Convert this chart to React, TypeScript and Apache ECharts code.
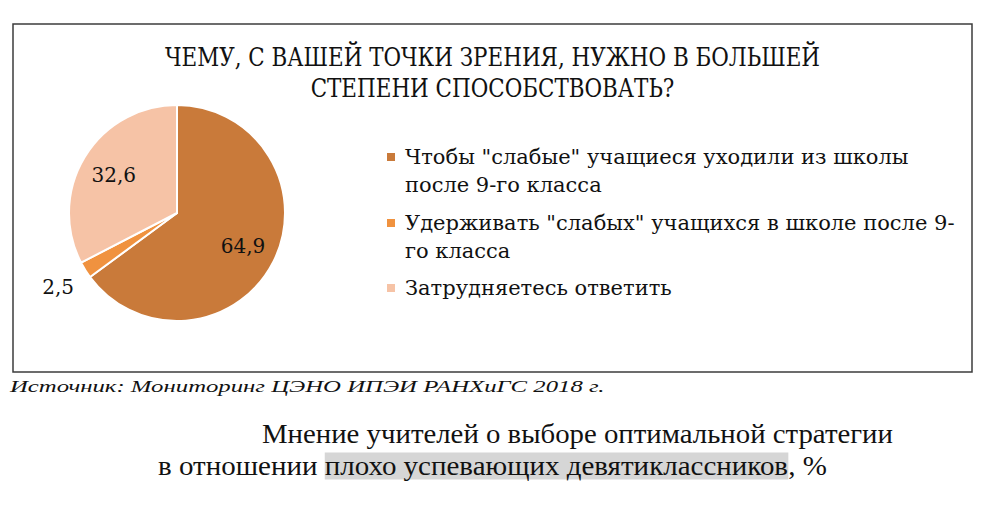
import React, { useEffect, useRef } from 'react';
import * as echarts from 'echarts';

// ---- data ----
const titleLines = ['ЧЕМУ, С ВАШЕЙ ТОЧКИ ЗРЕНИЯ, НУЖНО В БОЛЬШЕЙ', 'СТЕПЕНИ СПОСОБСТВОВАТЬ?'];
const answers = [
  'Чтобы "слабые" учащиеся уходили из школы после 9-го класса',
  'Удерживать "слабых" учащихся в школе после 9-го класса',
  'Затрудняетесь ответить'
];
// how the legend wraps each answer
const legendLabels = [
  'Чтобы "слабые" учащиеся уходили из школы\nпосле 9-го класса',
  'Удерживать "слабых" учащихся в школе после 9-\nго класса',
  'Затрудняетесь ответить'
];
const shares = [64.9, 2.5, 32.6];
const sourceNote = 'Источник: Мониторинг ЦЭНО ИПЭИ РАНХиГС 2018 г.';
const captionLine1 = 'Мнение учителей о выборе оптимальной стратегии';
const captionLine2 = ['в отношении ', 'плохо успевающих девятиклассников', ', %'];

// ---- look ----
const colors = ['#C97A3A', '#F0923F', '#F6C3A6'];
const SERIF = 'DejaVu Serif';
const timesCandidates = ['Liberation Serif', 'Times New Roman', 'Tinos', 'DejaVu Serif'];
const INK = '#111';
const PIE_X = 177;
const PIE_Y = 213;
const PIE_R = 108;
const labelRadius = [74, 140, 74];
const LEGEND_LINE = 28;
const legendLineCenters = [157, 223, 288];

function measure(text: string, font: string) {
  const ctx = document.createElement('canvas').getContext('2d')!;
  ctx.font = font;
  return ctx.measureText(text).width;
}

// first family that really draws Cyrillic
function pickFont(names: string[]) {
  const probe = 'Мнение учителей ЦЭНО';
  for (const n of names) {
    const ok = ['monospace', 'sans-serif'].every(
      base => Math.abs(measure(probe, `30px "${n}", ${base}`) - measure(probe, `30px ${base}`)) > 0.5
    );
    if (ok) return n;
  }
  return 'serif';
}

export default function App() {
  const chartRef = useRef<HTMLDivElement>(null);

  useEffect(() => {
    if (!chartRef.current) return;
    const chart = echarts.init(chartRef.current, undefined, { renderer: 'svg' });
    const TIMES = pickFont(timesCandidates);

    const total = shares.reduce((a, b) => a + b, 0);
    let acc = 0;
    const midAngles = shares.map(v => {
      const a = ((acc + v / 2) / total) * Math.PI * 2;
      acc += v;
      return a;
    });

    // squeeze / stretch texts to the widths seen on the page
    const titleScale = 655 / measure(titleLines[0], `26px "${SERIF}"`);
    const sourceScale = 595 / measure(sourceNote, `italic 17px "${TIMES}"`);
    const cap1Scale = 631 / measure(captionLine1, `27px "${TIMES}"`);
    const cap2Scale = 669 / measure(captionLine2.join(''), `27px "${TIMES}"`);

    const option: any = {
      animation: false,
      backgroundColor: '#fff',
      graphic: [
        {
          type: 'rect',
          shape: { x: 13, y: 24, width: 959, height: 348 },
          style: { fill: 'none', stroke: '#3c3c3c', lineWidth: 1.5 },
          silent: true
        },
        {
          type: 'text',
          x: 492.5,
          y: 41.5,
          scaleX: titleScale,
          style: {
            text: titleLines.join('\n'),
            fontFamily: SERIF,
            fontSize: 26,
            lineHeight: 31.5,
            fill: INK,
            align: 'center',
            verticalAlign: 'top'
          }
        },
        {
          type: 'text',
          x: 10,
          y: 386,
          scaleX: sourceScale,
          style: {
            text: sourceNote,
            fontFamily: TIMES,
            fontStyle: 'italic',
            fontSize: 17,
            fill: INK,
            align: 'left',
            verticalAlign: 'middle'
          }
        },
        {
          type: 'text',
          x: 262,
          y: 434,
          scaleX: cap1Scale,
          style: {
            text: captionLine1,
            fontFamily: TIMES,
            fontSize: 27,
            fill: INK,
            align: 'left',
            verticalAlign: 'middle'
          }
        },
        {
          type: 'text',
          x: 158,
          y: 466,
          scaleX: cap2Scale,
          style: {
            text: `{a|${captionLine2[0]}}{h|${captionLine2[1]}}{a|${captionLine2[2]}}`,
            fontFamily: TIMES,
            fontSize: 27,
            fill: INK,
            align: 'left',
            verticalAlign: 'middle',
            rich: {
              a: { fontFamily: TIMES, fontSize: 27, fill: INK, lineHeight: 32 },
              h: { fontFamily: TIMES, fontSize: 27, fill: INK, lineHeight: 32, backgroundColor: '#D6D6D6' }
            }
          }
        }
      ],
      legend: answers.map((name, i) => {
        const twoLines = legendLabels[i].includes('\n');
        return {
          data: [name],
          orient: 'vertical',
          left: 387,
          top: legendLineCenters[i] - (twoLines ? LEGEND_LINE * 1.5 : LEGEND_LINE / 2),
          padding: 0,
          itemWidth: 8,
          itemHeight: 8,
          icon: 'rect',
          selectedMode: false,
          itemStyle: { borderWidth: 0 },
          // an empty first line keeps the marker level with the first text line
          formatter: () => (twoLines ? '\n' + legendLabels[i] : legendLabels[i]),
          textStyle: {
            fontFamily: SERIF,
            fontSize: 21,
            lineHeight: LEGEND_LINE,
            color: INK,
            padding: [0, 0, 0, 5]
          }
        };
      }),
      series: [
        {
          type: 'pie',
          center: [PIE_X, PIE_Y],
          radius: PIE_R,
          startAngle: 90,
          clockwise: true,
          avoidLabelOverlap: false,
          itemStyle: { borderColor: '#fff', borderWidth: 2 },
          label: {
            show: true,
            position: 'inside',
            fontFamily: SERIF,
            fontSize: 20,
            color: INK,
            formatter: (p: any) => String(p.value).replace('.', ',')
          },
          labelLine: { show: false },
          labelLayout: (p: any) => {
            const a = midAngles[p.dataIndex];
            const d = labelRadius[p.dataIndex];
            return {
              x: PIE_X + Math.sin(a) * d,
              y: PIE_Y - Math.cos(a) * d,
              align: 'center',
              verticalAlign: 'middle'
            };
          },
          data: answers.map((name, i) => ({
            name,
            value: shares[i],
            itemStyle: { color: colors[i] },
            label: i === 1 ? { position: 'outside' } : undefined
          }))
        }
      ]
    };

    chart.setOption(option);
    return () => chart.dispose();
  }, []);

  return (
    <div
      ref={chartRef}
      style={{ position: 'fixed', left: 0, top: 0, width: 990, height: 509 }}
    />
  );
}
